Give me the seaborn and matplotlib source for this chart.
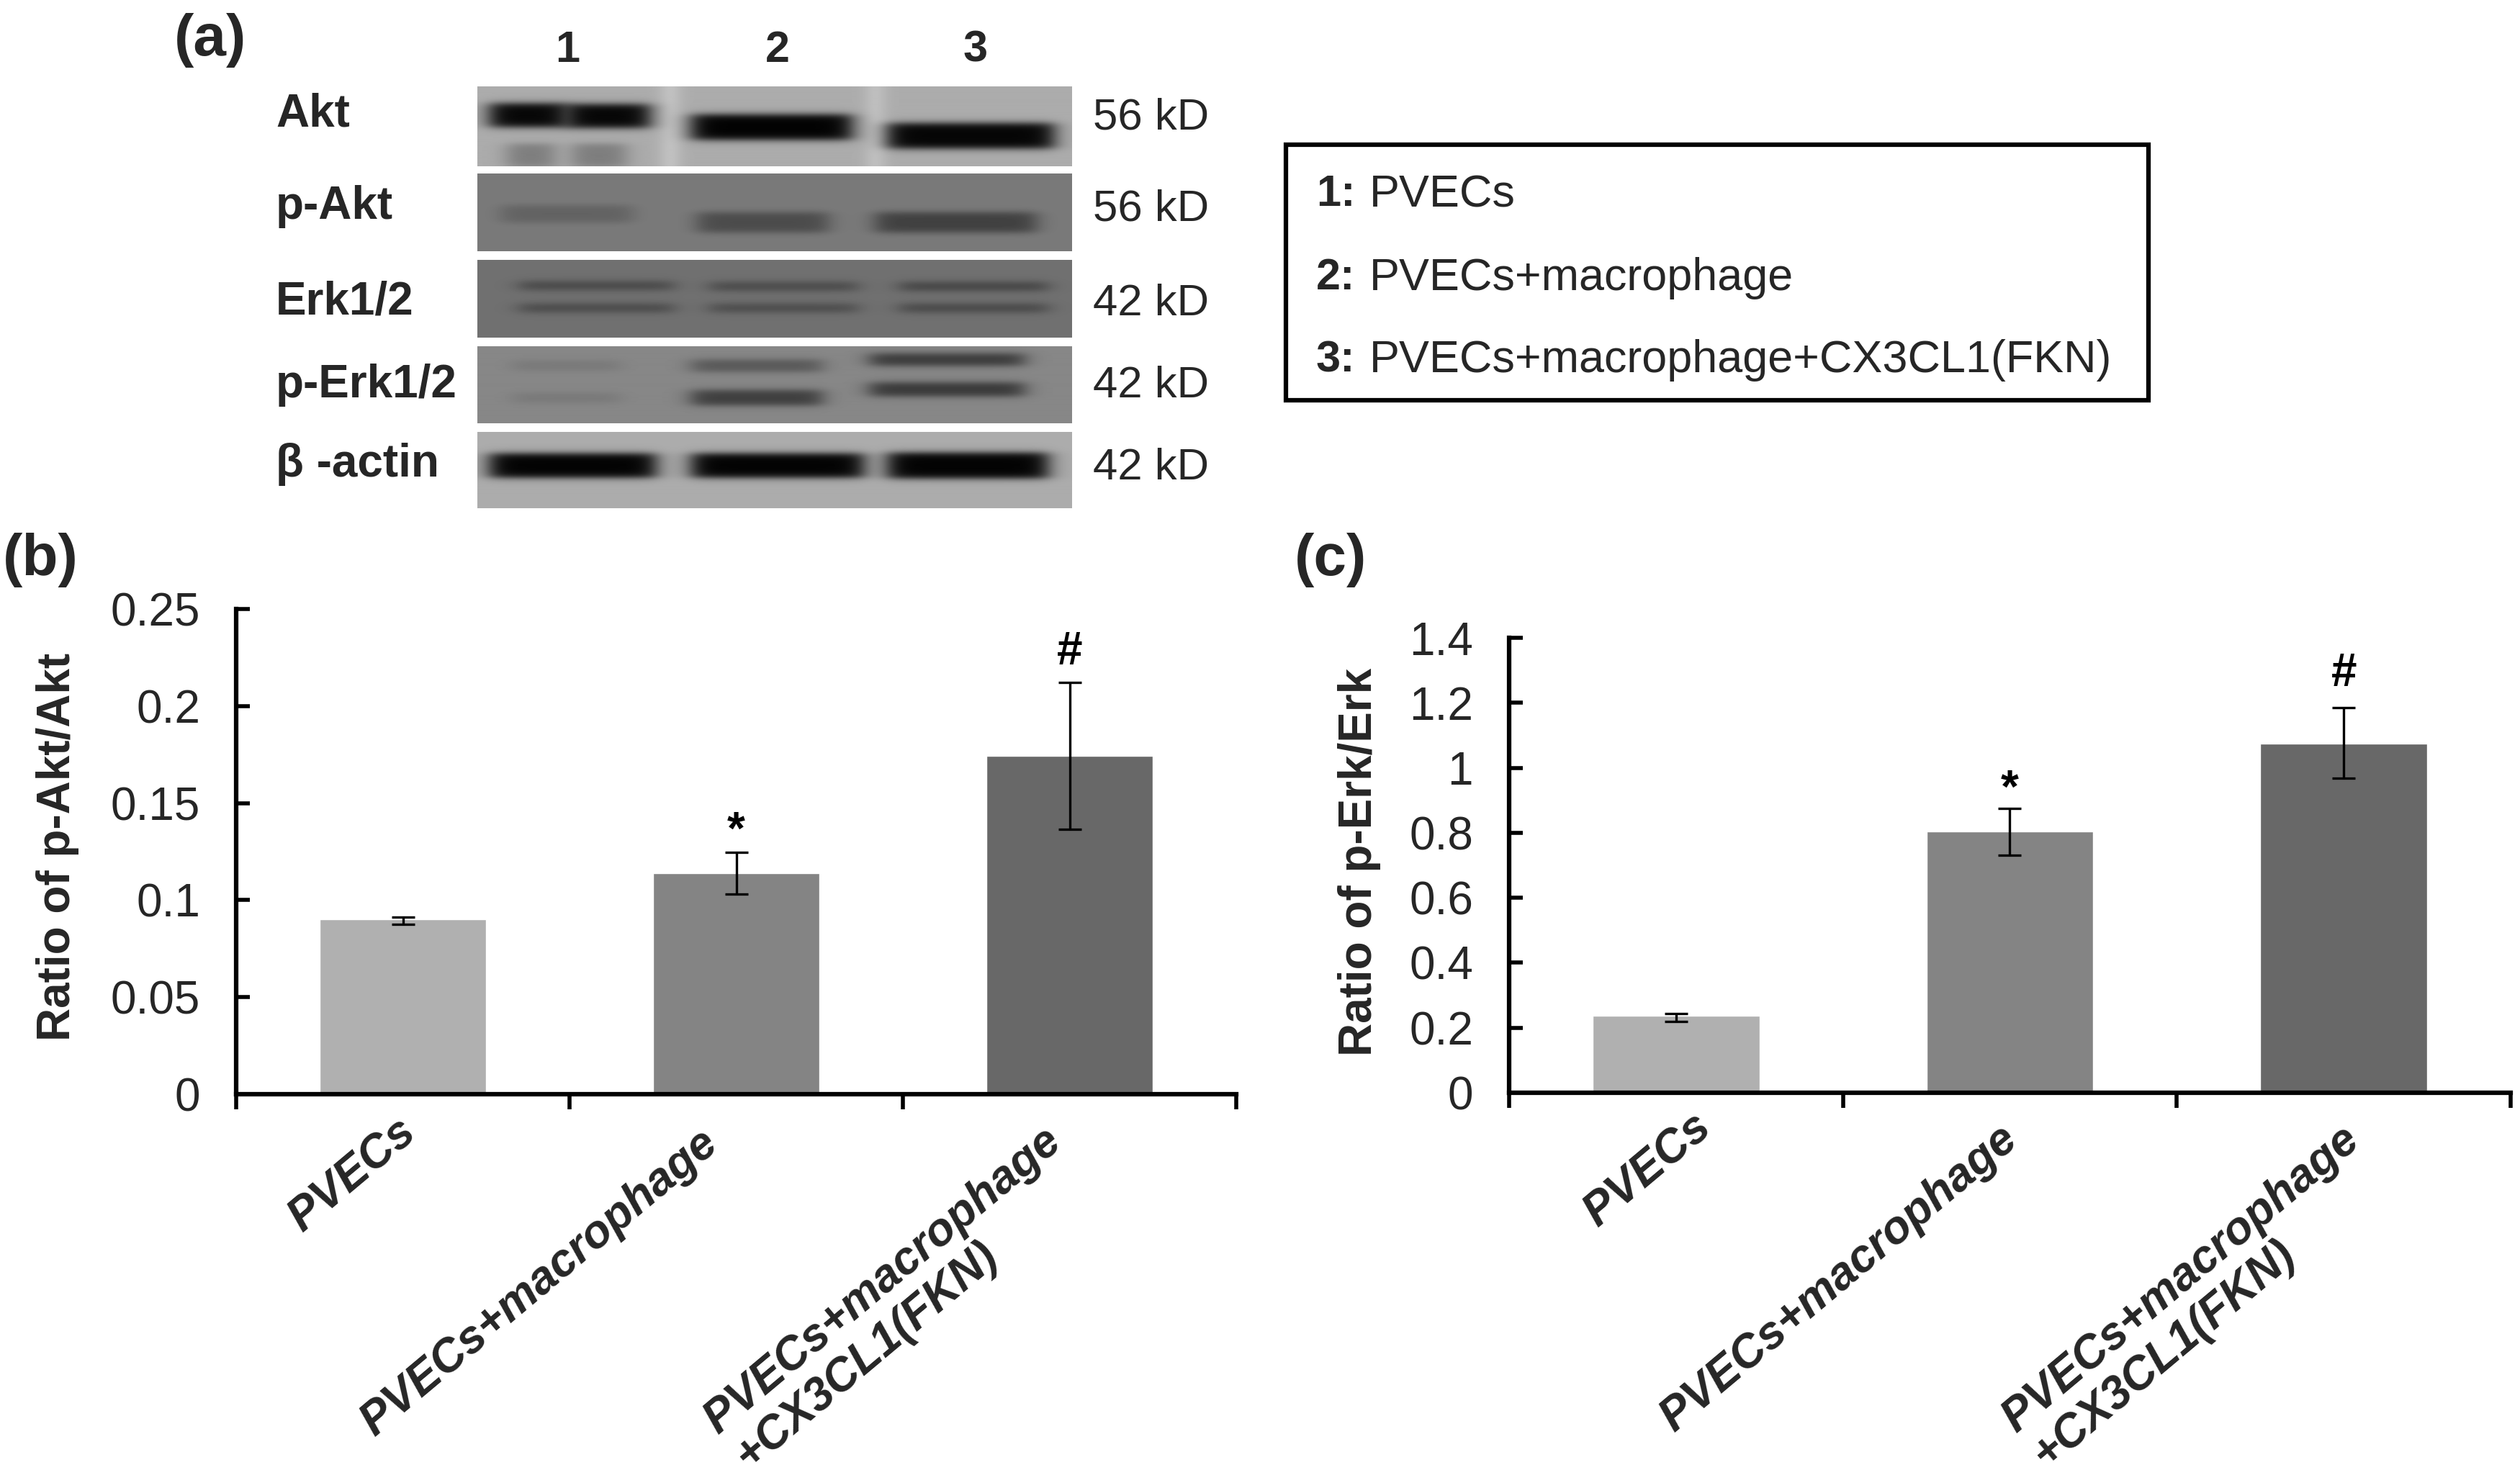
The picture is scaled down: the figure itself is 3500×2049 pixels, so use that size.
import numpy as np
import pandas as pd
import matplotlib
matplotlib.use("Agg")
import matplotlib.pyplot as plt
from matplotlib.patches import Rectangle
from matplotlib.transforms import ScaledTranslation
import seaborn as sns

sns.set_style("white")
plt.rcParams["font.family"] = ["Liberation Sans", "DejaVu Sans"]

W, H = 3500, 2049

# ---------- data ----------
groups = ["PVECs", "PVECs+macrophage", "PVECs+macrophage\n+CX3CL1(FKN)"]
akt_ratio = [0.0900, 0.1140, 0.1745]
akt_low = [0.0875, 0.1030, 0.1365]
akt_high = [0.0912, 0.1245, 0.2122]
akt_ticks = [0, 0.05, 0.1, 0.15, 0.2, 0.25]
akt_ticklabels = ["0", "0.05", "0.1", "0.15", "0.2", "0.25"]
erk_ratio = [0.238, 0.805, 1.075]
erk_low = [0.2190, 0.730, 0.967]
erk_high = [0.2445, 0.875, 1.186]
erk_ticks = [0, 0.2, 0.4, 0.6, 0.8, 1.0, 1.2, 1.4]
erk_ticklabels = ["0", "0.2", "0.4", "0.6", "0.8", "1", "1.2", "1.4"]
bar_greys = ["#b0b0b0", "#848484", "#686868"]
marks = ["", "*", "#"]

legend_keys = ["1:", "2:", "3:"]
legend_names = ["PVECs", "PVECs+macrophage", "PVECs+macrophage+CX3CL1(FKN)"]
blot_names = ["Akt", "p-Akt", "Erk1/2", "p-Erk1/2", "\u03b2 -actin"]
blot_sizes = ["56 kD", "56 kD", "42 kD", "42 kD", "42 kD"]
lane_names = ["1", "2", "3"]

# blot strips: background grey, bands as (x0, x1, y centre, thickness, darkest grey)
# x and y are fractions of the strip
blot_backgrounds = [172, 122, 112, 135, 172]
blot_bands = [
    [(0.02, 0.15, 0.36, 0.30, 6), (0.15, 0.29, 0.37, 0.30, 6), (0.05, 0.13, 0.87, 0.30, 125),
     (0.16, 0.25, 0.87, 0.30, 125), (0.36, 0.63, 0.51, 0.32, 2), (0.69, 0.97, 0.62, 0.32, 5)],
    [(0.04, 0.26, 0.52, 0.22, 98), (0.37, 0.59, 0.63, 0.26, 75), (0.67, 0.94, 0.63, 0.26, 64)],
    [(0.07, 0.33, 0.33, 0.11, 70), (0.07, 0.33, 0.62, 0.11, 72), (0.39, 0.64, 0.34, 0.11, 72),
     (0.39, 0.64, 0.62, 0.11, 74), (0.71, 0.96, 0.34, 0.11, 66), (0.71, 0.96, 0.62, 0.11, 70)],
    [(0.06, 0.24, 0.25, 0.12, 120), (0.06, 0.24, 0.67, 0.12, 120), (0.36, 0.58, 0.25, 0.16, 88),
     (0.36, 0.58, 0.67, 0.20, 62), (0.66, 0.92, 0.17, 0.16, 58), (0.66, 0.92, 0.56, 0.18, 56)],
    [(0.02, 0.30, 0.44, 0.32, 3), (0.36, 0.65, 0.44, 0.32, 3), (0.69, 0.96, 0.44, 0.34, 3)],
]
# lighter vertical gaps between lanes in the Akt strip: (x centre, grey)
akt_gaps = [(0.325, 192), (0.67, 190)]


# ---------- layout helpers ----------
def axes_px(fig, left, top, right, bottom):
    return fig.add_axes([left / W, 1 - bottom / H, (right - left) / W, (bottom - top) / H])


def soft_box(u, lo, hi, edge):
    return 0.5 * (np.tanh((u - lo) / edge) - np.tanh((u - hi) / edge))


def render_strip(bg, bands, gaps=()):
    xx, yy = np.meshgrid(np.linspace(0, 1, 826), np.linspace(0, 1, 108))
    img = np.full(xx.shape, float(bg))
    for xc, grey in gaps:
        img += (grey - bg) * np.exp(-((xx - xc) / 0.02) ** 2)
    for x0, x1, yc, th, dark in bands:
        mask = soft_box(xx, x0, x1, 0.02) * soft_box(yy, yc - th / 2, yc + th / 2, 0.05)
        img = img + (dark - img) * mask
    return img


def bar_panel(fig, box, values, low, high, ticks, ticklabels, ylabel, label_xy, mark_y, nudges):
    ax = axes_px(fig, *box)
    frame = pd.DataFrame({"group": groups, "value": values})
    sns.barplot(data=frame, x="group", y="value", hue="group", palette=bar_greys,
                width=0.5, legend=False, saturation=1, ax=ax)
    values = np.asarray(values)
    ax.errorbar(range(3), values, yerr=[values - np.asarray(low), np.asarray(high) - values],
                fmt="none", ecolor="black", elinewidth=2.4, capsize=11.5, capthick=2.4, zorder=5)
    ax.set_xlim(-0.5, 2.5)
    ax.set_ylim(ticks[0], ticks[-1])
    ax.set_yticks(ticks, ticklabels)
    ax.tick_params(axis="y", which="major", direction="in", length=14, width=4,
                   labelsize=46, pad=36, left=True, color="black")
    ax.set_xticks([-0.5, 0.5, 1.5, 2.5], ["", "", "", ""])
    ax.tick_params(axis="x", which="major", direction="out", length=15, width=4,
                   bottom=True, color="black")
    ax.set_xticks([0, 1, 2], groups, minor=True)
    ax.tick_params(axis="x", which="minor", length=0, bottom=False, pad=32)
    for lab, (dx, dy) in zip(ax.get_xticklabels(minor=True), nudges):
        lab.set(rotation=40, ha="right", va="top", rotation_mode="anchor", fontsize=46,
                fontweight="bold", fontstyle="italic", multialignment="left", linespacing=1.1)
        lab.set_transform(lab.get_transform() + ScaledTranslation(dx / 100, -dy / 100, fig.dpi_scale_trans))
    ax.set_xlabel("")
    ax.set_ylabel(ylabel, fontsize=46, fontweight="bold")
    ax.yaxis.set_label_coords(*label_xy)
    sns.despine(ax=ax)
    for side in ("left", "bottom"):
        ax.spines[side].set_linewidth(4.5)
        ax.spines[side].set_color("black")
    for i, m in enumerate(marks):
        if m:
            ax.text(i, mark_y[i], m, ha="center", va="center", fontsize=46,
                    fontweight="bold", color="black")
    return ax


# ---------- figure ----------
fig = plt.figure(figsize=(W / 100, H / 100), dpi=100, facecolor="white")

bar_panel(fig, (328, 846, 1717, 1520), akt_ratio, akt_low, akt_high, akt_ticks, akt_ticklabels,
          "Ratio of p-Akt/Akt", (-0.157, 0.51), [None, 0.1352, 0.2276],
          [(-9, -22), (-52, -7), (-38, -10)])
bar_panel(fig, (2096, 886, 3487, 1518), erk_ratio, erk_low, erk_high, erk_ticks, erk_ticklabels,
          "Ratio of p-Erk/Erk", (-0.128, 0.507), [None, 0.93, 1.29],
          [(22, -27), (-16, -11), (-5, -10)])

# blot strips
strip_rows = [(120, 231), (241, 349), (361, 469), (481, 588), (600, 706)]
for k, (top, bottom) in enumerate(strip_rows):
    sax = axes_px(fig, 663, top, 1489, bottom)
    gaps = akt_gaps if k == 0 else ()
    sax.imshow(render_strip(blot_backgrounds[k], blot_bands[k], gaps), cmap="gray", vmin=0, vmax=255,
               aspect="auto", interpolation="bilinear")
    sax.axis("off")

# overlay for panel text and the key box, in pixels
ov = fig.add_axes([0, 0, 1, 1], facecolor="none")
ov.set_xlim(0, W)
ov.set_ylim(H, 0)
ov.axis("off")

for s, x, y in zip(["(a)", "(b)", "(c)"], [242, 4, 1798], [56, 778, 778]):
    ov.text(x, y, s, fontsize=59, fontweight="bold", va="center", ha="left")

for s, x in zip(lane_names, [788, 1080, 1355]):
    ov.text(x, 70, s, fontsize=44, fontweight="bold", ha="center", va="center")

for s, y in zip(blot_names, [158, 287, 419, 535, 645]):
    ov.text(383, y, s, fontsize=46, fontweight="bold", ha="left", va="center")

for s, y in zip(blot_sizes, [164, 291, 422, 537, 650]):
    ov.text(1518, y, s, fontsize=44.5, ha="left", va="center")

ov.add_patch(Rectangle((1786, 201), 1198, 355, fill=False, edgecolor="black", linewidth=4.5))
for key, name, y in zip(legend_keys, legend_names, [271, 386, 501]):
    ov.text(1828, y, key, fontsize=44, fontweight="bold", ha="left", va="center")
    ov.text(1902, y, name, fontsize=45.3, ha="left", va="center")

fig.savefig("out.png", dpi=100, facecolor="white")
